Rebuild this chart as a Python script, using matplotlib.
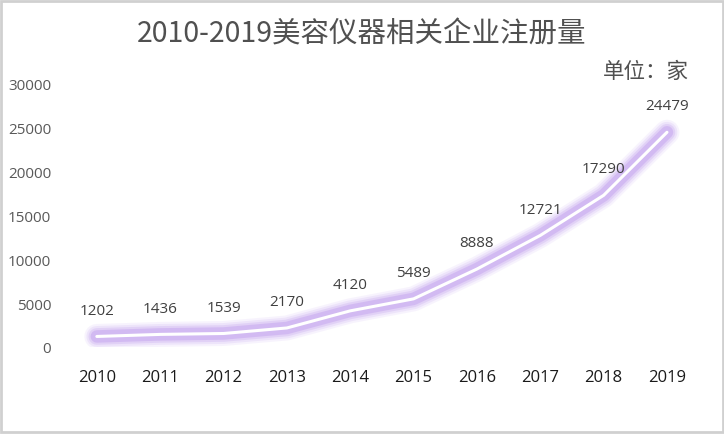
import matplotlib
matplotlib.use("Agg")
import matplotlib.pyplot as plt
from matplotlib.patches import Rectangle

plt.rcParams['font.family'] = ['Noto Sans CJK SC', 'DejaVu Sans']
num_font = ['Open Sans', 'Noto Sans CJK SC']

years = ['2010', '2011', '2012', '2013', '2014', '2015', '2016', '2017', '2018', '2019']
counts = [1202, 1436, 1539, 2170, 4120, 5489, 8888, 12721, 17290, 24479]
title = '2010-2019美容仪器相关企业注册量'
unit = '单位：家'

fig = plt.figure(figsize=(7.24, 4.35), dpi=100)
ax = fig.add_axes([0.09, 0.2, 0.875, 0.605])
x = list(range(len(years)))

# purple glow under a white core line
for lw, a in [(18, 0.1), (15, 0.15), (12, 0.22), (9, 0.35)]:
    ax.plot(x, counts, color='#b891ec', lw=lw, alpha=a, solid_capstyle='round',
            solid_joinstyle='round')
ax.plot(x, counts, color='white', lw=2.2, solid_capstyle='round', solid_joinstyle='round')

for xi, v in zip(x, counts):
    ax.annotate(str(v), (xi, v), xytext=(0, 19), textcoords='offset points',
                ha='center', va='center', fontsize=11, color='#404040', family=num_font)

ax.set_xlim(-0.5, len(years) - 0.5)
ax.set_ylim(0, 30000)
ax.set_yticks(range(0, 30001, 5000))
ax.set_xticks(x)
ax.set_xticklabels(years)
ax.tick_params(axis='y', length=0, pad=10, labelsize=11, labelcolor='#595959')
ax.tick_params(axis='x', length=0, pad=16, labelsize=12, labelcolor='#1a1a1a')
for lbl in ax.get_xticklabels() + ax.get_yticklabels():
    lbl.set_family(num_font)
for s in ax.spines.values():
    s.set_visible(False)

fig.text(0.5, 0.92, title, ha='center', va='center', fontsize=20.5, color='#505050')
fig.text(0.952, 0.835, unit, ha='right', va='center', fontsize=15.5, color='#505050')

fig.patches.append(Rectangle((0.002, 0.004), 0.996, 0.992, transform=fig.transFigure,
                             fill=False, edgecolor='#d0d0d0', lw=2))

fig.savefig('out.png', dpi=100)
